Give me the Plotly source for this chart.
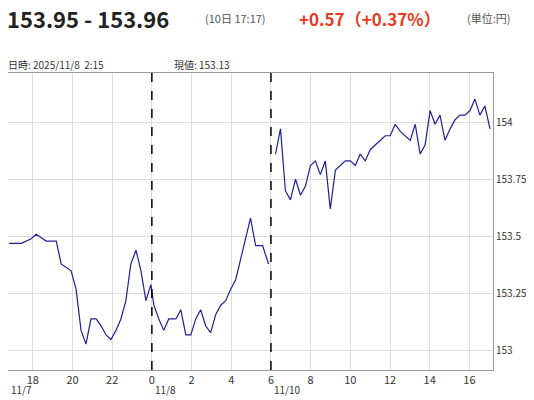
import plotly.graph_objects as go

# hours relative to 11/8 0:00 (weekend collapsed: 6 -> 11/10 open)
hours_a = [-7.19, -6.58, -6.08, -5.83, -5.33, -4.82, -4.57, -4.07, -3.82, -3.57,
           -3.32, -3.07, -2.81, -2.56, -2.31, -2.06, -1.81, -1.56, -1.31, -1.06,
           -0.80, -0.55, -0.30, -0.05, 0.10, 0.35, 0.60, 0.85, 1.21, 1.46,
           1.71, 1.96, 2.21, 2.46, 2.71, 2.96, 3.22, 3.47, 3.72, 3.97,
           4.22, 4.47, 4.72, 4.97, 5.23, 5.58, 5.88]
price_a = [153.47, 153.47, 153.49, 153.51, 153.48, 153.48, 153.38, 153.35, 153.27, 153.09,
           153.03, 153.14, 153.14, 153.11, 153.07, 153.05, 153.09, 153.14, 153.22, 153.38,
           153.44, 153.35, 153.22, 153.29, 153.20, 153.14, 153.09, 153.14, 153.14, 153.18,
           153.07, 153.07, 153.14, 153.18, 153.11, 153.08, 153.16, 153.20, 153.22, 153.27,
           153.31, 153.40, 153.48, 153.58, 153.46, 153.46, 153.38]
hours_b = [6.23, 6.48, 6.73, 6.98, 7.24, 7.49, 7.74, 7.99, 8.24, 8.49,
           8.74, 8.99, 9.25, 9.50, 9.75, 10.00, 10.25, 10.50, 10.75, 11.01,
           11.26, 11.51, 11.76, 12.01, 12.26, 12.51, 12.76, 13.02, 13.27, 13.52,
           13.77, 14.02, 14.27, 14.52, 14.77, 15.03, 15.28, 15.53, 15.78, 16.03,
           16.28, 16.53, 16.78, 17.04]
price_b = [153.86, 153.97, 153.70, 153.66, 153.75, 153.68, 153.72, 153.81, 153.83, 153.77,
           153.83, 153.62, 153.79, 153.81, 153.83, 153.83, 153.81, 153.86, 153.83, 153.88,
           153.90, 153.92, 153.94, 153.94, 153.99, 153.96, 153.94, 153.92, 153.99, 153.86,
           153.90, 154.05, 153.99, 154.03, 153.92, 153.97, 154.01, 154.03, 154.03, 154.05,
           154.10, 154.03, 154.07, 153.97]

tick_pos = [-6, -4, -2, 0, 2, 4, 6, 8, 10, 12, 14, 16]
tick_text = ["18", "20", "22", "0", "2", "4", "6", "8", "10", "12", "14", "16"]
y_ticks = [153, 153.25, 153.5, 153.75, 154]
y_text = ["153", "153.25", "153.5", "153.75", "154"]
day_breaks = [0, 6]
day_labels = [(-7.2, "11/7"), (0.05, "11/8"), (6.05, "11/10")]

fig = go.Figure()
fig.add_trace(go.Scatter(x=hours_a + [None] + hours_b, y=price_a + [None] + price_b,
                         mode="lines", line=dict(color="#1f1f99", width=1.2),
                         connectgaps=False, hoverinfo="skip"))

for b in day_breaks:
    fig.add_shape(type="line", x0=b, x1=b, y0=0, y1=1, yref="paper",
                  line=dict(color="black", width=1.5, dash="dash"))

for pos, txt in day_labels:
    fig.add_annotation(x=pos, y=-0.035, yref="paper", text=txt, showarrow=False,
                       xanchor="left", yanchor="top", font=dict(size=10, color="#333"))

# page is drawn with an 8px body offset
ml, mr, mt, mb = 0, 49, 65, 38
fig.update_layout(margin=dict(l=ml, r=mr, t=mt, b=mb))
pw, ph = 534 - ml - mr, 400 - mt - mb


def page(x, y, text, size, color, bold=False):
    # x, y in screenshot pixels
    fig.add_annotation(x=(x - 8 - ml) / pw, y=(400 - mb - (y - 8)) / ph,
                       xref="paper", yref="paper",
                       text=f"<b>{text}</b>" if bold else text, showarrow=False,
                       xanchor="left", yanchor="middle", font=dict(size=size, color=color))


page(5, 18, "153.95 - 153.96", 22, "#222", True)
page(203, 18, "(10日 17:17)", 11, "#555")
page(297, 18, "+0.57（+0.37%）", 17, "#e8391d", True)
page(465, 18, "(単位:円)", 11, "#555")
page(6, 64, "日時: 2025/11/8  2:15", 10, "#333")
page(172, 64, "現値: 153.13", 10, "#333")

fig.update_xaxes(range=[-7.25, 17.19], tickvals=tick_pos, ticktext=tick_text,
                 showgrid=True, gridcolor="#dddddd", zeroline=False,
                 showline=True, linecolor="#999", mirror=True,
                 tickfont=dict(size=11, color="#333"), ticklen=0)
fig.update_yaxes(range=[152.917, 154.214], tickvals=y_ticks, ticktext=y_text, side="right",
                 showgrid=True, gridcolor="#dddddd", zeroline=False,
                 showline=True, linecolor="#999", mirror=True,
                 tickfont=dict(size=10, color="#333"))
fig.update_layout(width=534, height=400, showlegend=False,
                  plot_bgcolor="white", paper_bgcolor="white",
                  font=dict(family="Noto Sans CJK JP, Noto Sans, sans-serif"))

fig.write_html("out.html")
